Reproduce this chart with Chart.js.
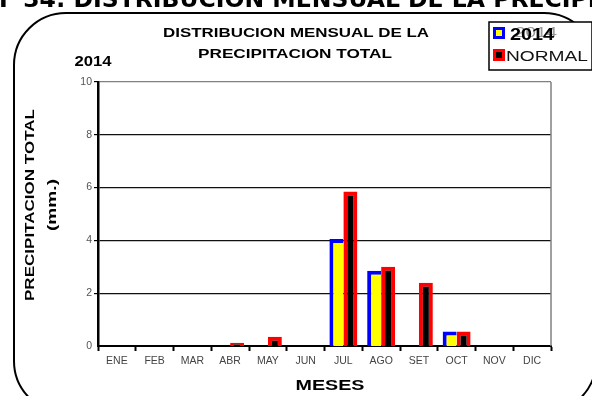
<!DOCTYPE html>
<html>
<head>
<meta charset="utf-8">
<script src="https://cdn.jsdelivr.net/npm/chart.js@4/dist/chart.umd.min.js"></script>
<style>
  html, body { margin: 0; padding: 0; background: #fff; }
  #wrap { width: 592px; height: 396px; position: relative; overflow: hidden; }
</style>
</head>
<body>
<div id="wrap"><canvas id="myChart" width="592" height="396"></canvas></div>
<script>
// monthly precipitation (mm.)
const meses = ['ENE', 'FEB', 'MAR', 'ABR', 'MAY', 'JUN', 'JUL', 'AGO', 'SET', 'OCT', 'NOV', 'DIC'];
const precip2014 = [0, 0, 0, 0, 0, 0, 4.05, 2.85, 0, 0.55, 0, 0];
const precipNormal = [0, 0, 0, 0.12, 0.35, 0, 5.85, 3.0, 2.4, 0.55, 0, 0];
const yMax = 10;
const yStep = 2;

const FONT = '"Liberation Sans", Arial, sans-serif';

// draws text centred on (x, y), stretched sideways to the given width
function wideText(c, text, x, y, width) {
    const w = c.measureText(text).width;
    c.save();
    c.translate(x, y);
    c.scale(width / w, 1);
    c.textAlign = 'center';
    c.fillText(text, 0, 0);
    c.restore();
}

// frame, headings, axis titles and legend box
const decor = {
    id: 'decor',
    afterDraw(chart) {
        const c = chart.ctx;
        const a = chart.chartArea;
        c.save();

        // right edge of plot
        c.strokeStyle = '#808080';
        c.lineWidth = 1.5;
        c.beginPath();
        c.moveTo(a.right, a.top);
        c.lineTo(a.right, a.bottom);
        c.stroke();

        // rounded frame
        c.strokeStyle = '#000';
        c.lineWidth = 2;
        c.beginPath();
        c.roundRect(14, 13, 582, 400, 52);
        c.stroke();

        // page heading, cut at the top
        c.fillStyle = '#000';
        c.font = 'bold 23.5px "DejaVu Sans"';
        c.textBaseline = 'alphabetic';
        c.textAlign = 'left';
        c.fillText('F 34: DISTRIBUCION MENSUAL DE LA PRECIPITACION', -1, 7);

        // chart title
        c.textBaseline = 'middle';
        c.font = 'bold 12.5px ' + FONT;
        wideText(c, 'DISTRIBUCION MENSUAL DE LA', 296, 34, 266);
        wideText(c, 'PRECIPITACION TOTAL', 295, 55, 194);

        c.font = 'bold 14.5px ' + FONT;
        wideText(c, '2014', 93, 62, 37);

        // axis titles
        c.font = 'bold 14px ' + FONT;
        wideText(c, 'MESES', 330, 386, 69);
        c.save();
        c.translate(30, 205);
        c.rotate(-Math.PI / 2);
        c.font = 'bold 13.5px ' + FONT;
        wideText(c, 'PRECIPITACION TOTAL', 0, 0, 192);
        wideText(c, '(mm.)', 0, 22, 52);
        c.restore();

        // legend
        const lx = 489, ly = 22, lw = 103, lh = 48;
        c.fillStyle = '#fff';
        c.fillRect(lx, ly, lw, lh);
        c.strokeStyle = '#000';
        c.lineWidth = 1.5;
        c.strokeRect(lx, ly, lw, lh);
        chart.data.datasets.forEach((ds, i) => {
            const y = ly + 12 + i * 22;
            c.fillStyle = ds.borderColor;
            c.fillRect(lx + 4, y - 7, 12, 12);
            c.fillStyle = ds.backgroundColor;
            c.fillRect(lx + 7, y - 4, 6, 6);
            if (i === 0) {
                c.font = '14px ' + FONT;
                c.fillStyle = '#999';
                wideText(c, ds.label, lx + 47, y - 1, 42);
                c.fillStyle = '#000';
                c.font = 'bold 16px ' + FONT;
                wideText(c, ds.label, lx + 43, y + 2, 44);
            } else {
                c.fillStyle = '#111';
                c.font = '15px ' + FONT;
                wideText(c, ds.label, lx + 58, y + 1, 82);
            }
        });
        c.restore();
    }
};

const ctx = document.getElementById('myChart');
const myChart = new Chart(ctx, {
    type: 'bar',
    data: {
        labels: meses,
        datasets: [{
            label: '2014',
            data: precip2014,
            backgroundColor: '#ffff00',
            borderColor: '#0000ff',
            borderWidth: {top: 4, left: 4, right: 0, bottom: 0},
            borderSkipped: false
        }, {
            label: 'NORMAL',
            data: precipNormal,
            backgroundColor: '#000000',
            borderColor: '#ff0000',
            borderWidth: 4,
            borderSkipped: 'start'
        }]
    },
    options: {
        responsive: false,
        animation: false,
        events: [],
        categoryPercentage: 0.74,
        barPercentage: 1.0,
        layout: {
            padding: {top: 82, right: 41, left: 0, bottom: 0}
        },
        plugins: {
            legend: {display: false},
            title: {display: false},
            tooltip: {enabled: false}
        },
        scales: {
            x: {
                grid: {
                    offset: true,
                    drawOnChartArea: false,
                    drawTicks: true,
                    tickLength: 5,
                    tickColor: '#000',
                    tickWidth: 2
                },
                border: {color: '#000', width: 2},
                ticks: {
                    color: '#444',
                    font: {family: FONT, size: 10.5},
                    padding: 4,
                    maxRotation: 0
                },
                afterFit(scale) { scale.height = 50; }
            },
            y: {
                min: 0,
                max: yMax,
                ticks: {
                    stepSize: yStep,
                    color: '#555',
                    font: {family: FONT, size: 10.5},
                    padding: 2
                },
                grid: {
                    color: (c) => c.tick && c.tick.value === yMax ? '#808080' : '#111',
                    lineWidth: (c) => c.tick && c.tick.value === 0 ? 0 : 1.2,
                    tickLength: 4,
                    tickColor: '#000'
                },
                border: {color: '#000', width: 2.5},
                afterFit(scale) { scale.width = 98; }
            }
        }
    },
    plugins: [decor]
});
</script>
</body>
</html>
